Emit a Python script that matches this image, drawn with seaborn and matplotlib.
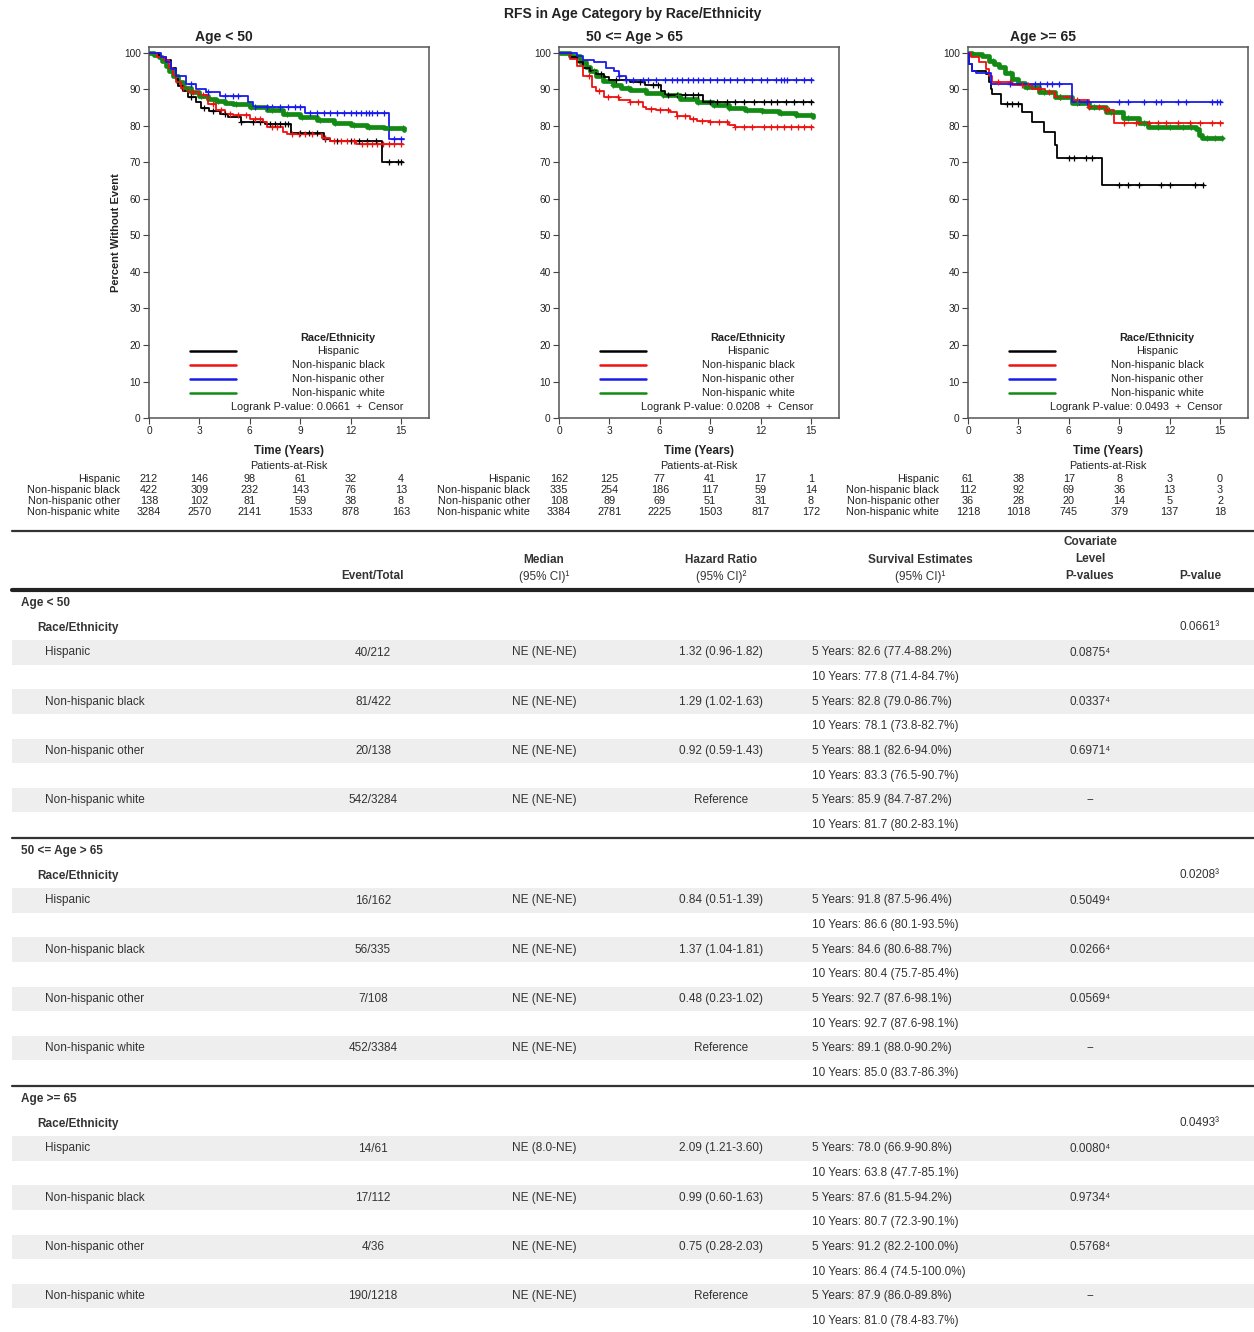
import numpy as np
import pandas as pd
import matplotlib
matplotlib.use("Agg")
import matplotlib.pyplot as plt
import seaborn as sns
from matplotlib.transforms import blended_transform_factory as btf

# ---------------- DATA ----------------
title = "RFS in Age Category by Race/Ethnicity"
groups = ["Age < 50", "50 <= Age > 65", "Age >= 65"]
races = ["Hispanic", "Non-hispanic black", "Non-hispanic other", "Non-hispanic white"]
logrank_p = ["0.0661", "0.0208", "0.0493"]
risk_times = [0, 3, 6, 9, 12, 15]

# Kaplan-Meier step knots (time in years, percent without event)
lt50_hisp_t = [0, 0.6, 1.0, 1.3, 1.6, 1.75, 2.0, 2.3, 2.8, 3.1, 3.6, 4.2, 4.7, 5.5, 6.9, 8.45, 10.4, 10.8, 13.85, 15.1]
lt50_hisp_s = [100, 99, 98, 96, 93, 91, 89.5, 88, 86.5, 85, 84, 83.2, 82.5, 81, 80.5, 78, 76.5, 76, 70.2, 70.2]
lt50_blk_t = [0, 0.5, 0.9, 1.2, 1.4, 1.6, 1.9, 2.3, 3.0, 3.5, 4.0, 4.5, 5.0, 6.0, 6.8, 7.0, 8.0, 8.2, 10.3, 10.8, 12.3, 15.1]
lt50_blk_s = [100, 99, 98, 96, 94, 92, 90.5, 89.3, 88.4, 86, 84.3, 83.4, 82.9, 82, 81, 79.7, 78.4, 77.7, 76.8, 76, 75.2, 75]
lt50_oth_t = [0, 0.7, 1.0, 1.3, 1.6, 2.2, 2.8, 3.4, 4.2, 5.9, 6.2, 9.3, 14.3, 15.2]
lt50_oth_s = [100, 99, 97.5, 95.5, 93.8, 91.5, 90.2, 89.3, 88.2, 86.5, 85.2, 83.5, 76.4, 76.4]
lt50_wht_t = [0, 0.3, 0.6, 0.8, 1.0, 1.2, 1.4, 1.7, 2.0, 2.5, 3.0, 3.5, 4.0, 4.5, 5.0, 6.0, 7.0, 8.0, 9.0, 10.0, 11.0, 12.0, 13.0, 14.0, 15.2]
lt50_wht_s = [100, 99.5, 98.8, 97.8, 96.5, 95.2, 93.8, 92, 90.5, 89.2, 88.2, 87.4, 86.8, 86.4, 85.9, 85.1, 84.3, 83.4, 82.5, 81.7, 80.8, 80.2, 79.8, 79.4, 79.0]

mid_hisp_t = [0, 0.65, 1.05, 1.45, 1.85, 2.2, 2.7, 3.0, 4.2, 5.1, 6.1, 6.3, 8.55, 15.1]
mid_hisp_s = [100, 98.8, 97.5, 96, 95.2, 94.3, 93.4, 92.7, 92, 91.1, 89.7, 88.6, 86.6, 86.6]
mid_blk_t = [0, 0.65, 1.05, 1.45, 1.95, 2.2, 2.7, 3.6, 4.2, 5.0, 5.2, 5.8, 6.6, 7.0, 7.8, 8.2, 9.0, 10.1, 10.5, 15.1]
mid_blk_s = [100, 98.4, 96.5, 93.8, 90.6, 89.5, 87.9, 87, 86.5, 85.2, 84.7, 84.3, 83.8, 82.7, 81.8, 81.5, 81.1, 80.2, 79.6, 79.6]
mid_oth_t = [0, 1.05, 1.45, 2.1, 2.8, 3.3, 3.6, 4.0, 15.1]
mid_oth_s = [100, 99.3, 98.2, 97.5, 96, 95.2, 93.8, 92.7, 92.7]
mid_wht_t = [0, 0.65, 1.25, 1.6, 1.85, 2.2, 2.6, 3.2, 3.7, 4.2, 5.2, 6.2, 7.2, 8.2, 9.15, 10.1, 11.1, 12.1, 13.1, 14.1, 15.1]
mid_wht_s = [100, 99.3, 97.5, 96.3, 95.2, 93.8, 92.4, 91.1, 90.4, 89.9, 89.1, 88.4, 87.5, 86.5, 85.8, 85.0, 84.5, 84.1, 83.6, 82.9, 82.4]

ge65_hisp_t = [0, 0.05, 0.25, 1.05, 1.25, 1.35, 1.45, 1.95, 3.2, 3.8, 4.5, 5.2, 5.3, 8.0, 14.05]
ge65_hisp_s = [100, 97, 95.2, 94.3, 92, 90.2, 88.8, 86.1, 83.8, 81.1, 78.4, 74.7, 71.2, 63.8, 63.8]
ge65_blk_t = [0, 0.15, 0.65, 1.05, 1.25, 1.45, 2.6, 3.8, 4.6, 5.2, 6.2, 7.2, 8.2, 8.7, 15.15]
ge65_blk_s = [100, 98.8, 97.5, 95.6, 93.8, 92, 91.1, 90.2, 89.3, 87.9, 87, 85.2, 84.3, 80.7, 80.7]
ge65_oth_t = [0, 0.05, 0.25, 0.5, 1.35, 6.2, 15.1]
ge65_oth_s = [100, 97, 95.2, 94.5, 91.5, 86.5, 86.5]
ge65_wht_t = [0, 0.25, 0.85, 1.25, 1.55, 1.85, 2.2, 2.6, 3.0, 3.4, 4.2, 5.2, 6.2, 7.2, 8.2, 9.2, 10.2, 10.7, 13.55, 13.75, 13.95, 15.1]
ge65_wht_s = [100, 99.7, 99.1, 97.9, 97.0, 96.1, 94.6, 92.9, 91.8, 90.6, 89.3, 87.9, 86.4, 85.2, 83.8, 82.2, 80.9, 79.7, 79.3, 77.5, 76.8, 76.8]

# censor times
lt50_hisp_c = [2.5, 3.3, 3.8, 4.5, 5.5, 6.2, 6.6, 7.2, 7.5, 7.8, 8.1, 8.3, 9.0, 9.5, 10.0, 10.5, 11.2, 12.0, 12.5, 13.0, 13.5, 14.3, 14.8, 15.0]
lt50_blk_c = [2.0, 2.6, 3.2, 3.8, 4.3, 4.8, 5.3, 5.8, 6.3, 6.6, 7.3, 7.6, 8.5, 8.9, 9.3, 9.7, 10.5, 11.0, 11.4, 11.8, 12.2, 12.7, 13.0, 13.3, 13.6, 13.9, 14.3, 14.6, 15.0]
lt50_oth_c = [2.5, 3.5, 4.5, 5.0, 5.3, 6.3, 7.0, 7.3, 7.8, 8.3, 8.7, 9.0, 9.6, 10.0, 10.4, 10.8, 11.2, 11.6, 12.0, 12.3, 12.6, 12.9, 13.1, 13.3, 13.6, 14.0, 14.6, 15.0]
lt50_wht_c = [2.2, 3.1, 4.1, 5.2, 6.1, 7.3, 8.2, 9.1, 10.2, 11.1, 12.2, 13.1, 14.2, 15.1]
mid_hisp_c = [2.5, 3.4, 4.0, 4.8, 5.6, 5.9, 6.5, 7.0, 7.5, 8.0, 8.3, 9.0, 9.4, 10.0, 10.5, 11.0, 11.6, 12.2, 12.6, 13.0, 13.5, 14.0, 14.5, 15.0]
mid_blk_c = [1.8, 2.4, 2.9, 3.5, 4.2, 4.7, 5.5, 6.0, 6.5, 7.0, 7.5, 8.0, 8.5, 9.0, 9.5, 10.0, 10.5, 11.0, 11.5, 12.2, 12.6, 13.0, 13.4, 13.8, 14.2, 14.6, 15.0]
mid_oth_c = [3.6, 4.0, 4.4, 5.0, 5.3, 5.8, 6.3, 6.7, 7.0, 7.3, 7.7, 8.0, 8.3, 8.6, 9.0, 9.4, 9.8, 10.2, 10.6, 11.0, 11.5, 12.0, 12.4, 12.9, 13.2, 13.4, 13.6, 14.1, 14.6, 15.0]
mid_wht_c = [2.1, 3.2, 4.1, 5.1, 6.2, 7.1, 8.3, 9.2, 10.1, 11.2, 12.1, 13.2, 14.1, 15.0]
ge65_hisp_c = [2.3, 2.6, 3.0, 6.0, 6.3, 7.0, 7.4, 9.0, 9.5, 10.2, 11.5, 12.0, 13.5, 14.0]
ge65_blk_c = [1.8, 2.5, 3.2, 3.6, 4.2, 4.8, 5.5, 6.5, 7.2, 7.8, 8.2, 8.4, 9.3, 10.0, 10.8, 11.3, 11.8, 12.5, 13.2, 13.8, 14.5, 15.0]
ge65_oth_c = [2.5, 4.0, 4.3, 4.7, 5.0, 5.4, 6.6, 7.1, 9.0, 9.5, 10.5, 11.2, 11.5, 12.5, 13.0, 14.5, 14.8, 15.0]
ge65_wht_c = [1.5, 2.5, 3.5, 4.5, 5.5, 6.5, 7.5, 8.5, 9.5, 10.5, 11.3, 12.0, 12.8, 13.3, 14.2, 14.7, 15.1]

# patients at risk
risk_lt50 = [[212, 146, 98, 61, 32, 4], [422, 309, 232, 143, 76, 13], [138, 102, 81, 59, 38, 8], [3284, 2570, 2141, 1533, 878, 163]]
risk_mid = [[162, 125, 77, 41, 17, 1], [335, 254, 186, 117, 59, 14], [108, 89, 69, 51, 31, 8], [3384, 2781, 2225, 1503, 817, 172]]
risk_ge65 = [[61, 38, 17, 8, 3, 0], [112, 92, 69, 36, 13, 3], [36, 28, 20, 14, 5, 2], [1218, 1018, 745, 379, 137, 18]]

# summary table
event_total = [["40/212", "81/422", "20/138", "542/3284"],
               ["16/162", "56/335", "7/108", "452/3384"],
               ["14/61", "17/112", "4/36", "190/1218"]]
median_ci = [["NE (NE-NE)"] * 4,
             ["NE (NE-NE)"] * 4,
             ["NE (8.0-NE)", "NE (NE-NE)", "NE (NE-NE)", "NE (NE-NE)"]]
hazard = [["1.32 (0.96-1.82)", "1.29 (1.02-1.63)", "0.92 (0.59-1.43)", "Reference"],
          ["0.84 (0.51-1.39)", "1.37 (1.04-1.81)", "0.48 (0.23-1.02)", "Reference"],
          ["2.09 (1.21-3.60)", "0.99 (0.60-1.63)", "0.75 (0.28-2.03)", "Reference"]]
surv5 = [["82.6 (77.4-88.2%)", "82.8 (79.0-86.7%)", "88.1 (82.6-94.0%)", "85.9 (84.7-87.2%)"],
         ["91.8 (87.5-96.4%)", "84.6 (80.6-88.7%)", "92.7 (87.6-98.1%)", "89.1 (88.0-90.2%)"],
         ["78.0 (66.9-90.8%)", "87.6 (81.5-94.2%)", "91.2 (82.2-100.0%)", "87.9 (86.0-89.8%)"]]
surv10 = [["77.8 (71.4-84.7%)", "78.1 (73.8-82.7%)", "83.3 (76.5-90.7%)", "81.7 (80.2-83.1%)"],
          ["86.6 (80.1-93.5%)", "80.4 (75.7-85.4%)", "92.7 (87.6-98.1%)", "85.0 (83.7-86.3%)"],
          ["63.8 (47.7-85.1%)", "80.7 (72.3-90.1%)", "86.4 (74.5-100.0%)", "81.0 (78.4-83.7%)"]]
cov_p = [["0.0875", "0.0337", "0.6971", "--"],
         ["0.5049", "0.0266", "0.0569", "--"],
         ["0.0080", "0.9734", "0.5768", "--"]]

curves_t = [[lt50_hisp_t, lt50_blk_t, lt50_oth_t, lt50_wht_t],
            [mid_hisp_t, mid_blk_t, mid_oth_t, mid_wht_t],
            [ge65_hisp_t, ge65_blk_t, ge65_oth_t, ge65_wht_t]]
curves_s = [[lt50_hisp_s, lt50_blk_s, lt50_oth_s, lt50_wht_s],
            [mid_hisp_s, mid_blk_s, mid_oth_s, mid_wht_s],
            [ge65_hisp_s, ge65_blk_s, ge65_oth_s, ge65_wht_s]]
censors = [[lt50_hisp_c, lt50_blk_c, lt50_oth_c, lt50_wht_c],
           [mid_hisp_c, mid_blk_c, mid_oth_c, mid_wht_c],
           [ge65_hisp_c, ge65_blk_c, ge65_oth_c, ge65_wht_c]]
risks = [risk_lt50, risk_mid, risk_ge65]

# ---------------- STYLE ----------------
sns.set_theme(style="white")
plt.rcParams["font.family"] = ["Liberation Sans", "DejaVu Sans"]
colors = ["#000000", "#ee1111", "#1a1aee", "#138a13"]
line_w = [1.3, 1.3, 1.3, 3.4]
TXT = "#333333"

W, H = 1254, 1332
fig = plt.figure(figsize=(W / 100, H / 100), dpi=100)
ov = fig.add_axes([0, 0, 1, 1])
ov.set_xlim(0, W)
ov.set_ylim(H, 0)
ov.axis("off")


def rect(l, t, r, b):
    return [l / W, 1 - b / H, (r - l) / W, (b - t) / H]


ov.text(633, 14, title, ha="center", va="center", fontsize=10, fontweight="bold", color="#222")

panel_lefts = [149, 559, 968]
px_per_year = 16.8
for g, left in enumerate(panel_lefts):
    right = left + 280
    ax = fig.add_axes(rect(left, 47, right, 418))
    for i in range(4):
        t = np.array(curves_t[g][i])
        s = np.array(curves_s[g][i])
        df = pd.DataFrame({"t": t, "S": s})
        sns.lineplot(data=df, x="t", y="S", drawstyle="steps-post", estimator=None, sort=False,
                     color=colors[i], lw=line_w[i], ax=ax, legend=False, zorder=2 + (i != 3))
        ct = np.array(censors[g][i])
        ct = ct[ct <= t[-1]]
        cy = s[np.searchsorted(t, ct, side="right") - 1]
        sns.scatterplot(x=ct, y=cy, marker="+", color=colors[i], s=14, linewidth=0.9,
                        ax=ax, legend=False, zorder=4)
    ax.set_xlim(0, 280 / px_per_year)
    ax.set_ylim(0, 371 / 3.65)
    ax.set_xticks(risk_times)
    ax.set_yticks(range(0, 101, 10))
    ax.set_xlabel("")
    ax.set_ylabel("")
    ax.tick_params(bottom=True, left=True, direction="out", length=4, width=0.8,
                   labelsize=7.3, color="#444", labelcolor="#222", pad=2)
    for sp in ax.spines.values():
        sp.set_visible(True)
        sp.set_color("#555")
        sp.set_linewidth(1.1)

    # legend (drawn inside the panel)
    leg_y = [0.1806, 0.1429, 0.1051, 0.0674]
    ax.text(0.675, 0.2156, "Race/Ethnicity", transform=ax.transAxes, ha="center", va="center",
            fontsize=7.8, fontweight="bold", color="#222")
    for i in range(4):
        ax.plot([0.146, 0.31], [leg_y[i], leg_y[i]], transform=ax.transAxes, color=colors[i], lw=1.8)
        ax.text(0.675, leg_y[i], races[i], transform=ax.transAxes, ha="center", va="center",
                fontsize=7.8, color="#222")
    ax.text(0.602, 0.0296, f"Logrank P-value: {logrank_p[g]}  +  Censor", transform=ax.transAxes,
            ha="center", va="center", fontsize=7.8, color="#222")

    # titles / labels
    ov.text(left + 75, 37, groups[g], ha="center", va="center", fontsize=10, fontweight="bold", color="#222")
    cx = left + 140
    ov.text(cx, 451, "Time (Years)", ha="center", va="center", fontsize=8.5, fontweight="bold", color="#222")
    ov.text(cx, 466, "Patients-at-Risk", ha="center", va="center", fontsize=7.8, color="#222")

    tr = btf(ax.transData, ov.transData)
    row_y = [479, 490, 501, 512]
    for i in range(4):
        ov.text(left - 29, row_y[i], races[i], ha="right", va="center", fontsize=7.8, color="#222")
        for j, tt in enumerate(risk_times):
            ov.text(tt, row_y[i], str(risks[g][i][j]), transform=tr, ha="center", va="center",
                    fontsize=7.8, color="#222")

ov.text(116, 233, "Percent Without Event", rotation=90, ha="center", va="center",
        fontsize=8, fontweight="bold", color="#222")

# ---------------- TABLE ----------------
X0, X1 = 12, 1254
ov.plot([X0, X1], [531, 531], color="#333", lw=1.6)
ov.plot([X0, X1], [589.5, 589.5], color="#222", lw=3.0)

hfs = 8.5
ov.text(373, 576, "Event/Total", ha="center", va="center", fontsize=hfs, fontweight="bold", color=TXT)
ov.text(544, 560, "Median", ha="center", va="center", fontsize=hfs, fontweight="bold", color=TXT)
ov.text(544, 577, "(95% CI)¹", ha="center", va="center", fontsize=hfs, color=TXT)
ov.text(721, 560, "Hazard Ratio", ha="center", va="center", fontsize=hfs, fontweight="bold", color=TXT)
ov.text(721, 577, "(95% CI)²", ha="center", va="center", fontsize=hfs, color=TXT)
ov.text(920, 560, "Survival Estimates", ha="center", va="center", fontsize=hfs, fontweight="bold", color=TXT)
ov.text(920, 577, "(95% CI)¹", ha="center", va="center", fontsize=hfs, color=TXT)
ov.text(1090, 542, "Covariate", ha="center", va="center", fontsize=hfs, fontweight="bold", color=TXT)
ov.text(1090, 559, "Level", ha="center", va="center", fontsize=hfs, fontweight="bold", color=TXT)
ov.text(1090, 576, "P-values", ha="center", va="center", fontsize=hfs, fontweight="bold", color=TXT)
ov.text(1200, 576, "P-value", ha="center", va="center", fontsize=hfs, fontweight="bold", color=TXT)

bases = [590, 838, 1086]
step = 24.6
for g, base in enumerate(bases):
    if g > 0:
        ov.plot([X0, X1], [base, base], color="#333", lw=1.6)
    ov.text(21, base + 13, groups[g], ha="left", va="center", fontsize=hfs, fontweight="bold", color=TXT)
    ov.text(37, base + 37.5, "Race/Ethnicity", ha="left", va="center", fontsize=hfs, fontweight="bold", color=TXT)
    ov.text(1200, base + 37.5, logrank_p[g] + "³", ha="center", va="center", fontsize=hfs, color=TXT)
    for i in range(4):
        y5 = base + 62.5 + 2 * i * step
        y10 = y5 + step
        ov.add_patch(plt.Rectangle((X0, y5 - step / 2), X1 - X0, step, color="#eeeeee", lw=0, zorder=0))
        ov.text(45, y5, races[i], ha="left", va="center", fontsize=hfs, color=TXT)
        ov.text(373, y5, event_total[g][i], ha="center", va="center", fontsize=hfs, color=TXT)
        ov.text(544, y5, median_ci[g][i], ha="center", va="center", fontsize=hfs, color=TXT)
        ov.text(721, y5, hazard[g][i], ha="center", va="center", fontsize=hfs, color=TXT)
        ov.text(812, y5, "5 Years: " + surv5[g][i], ha="left", va="center", fontsize=hfs, color=TXT)
        ov.text(812, y10, "10 Years: " + surv10[g][i], ha="left", va="center", fontsize=hfs, color=TXT)
        pv = cov_p[g][i] + ("⁴" if cov_p[g][i] != "--" else "")
        ov.text(1090, y5, pv, ha="center", va="center", fontsize=hfs, color=TXT)

fig.savefig("out.png", dpi=100)
